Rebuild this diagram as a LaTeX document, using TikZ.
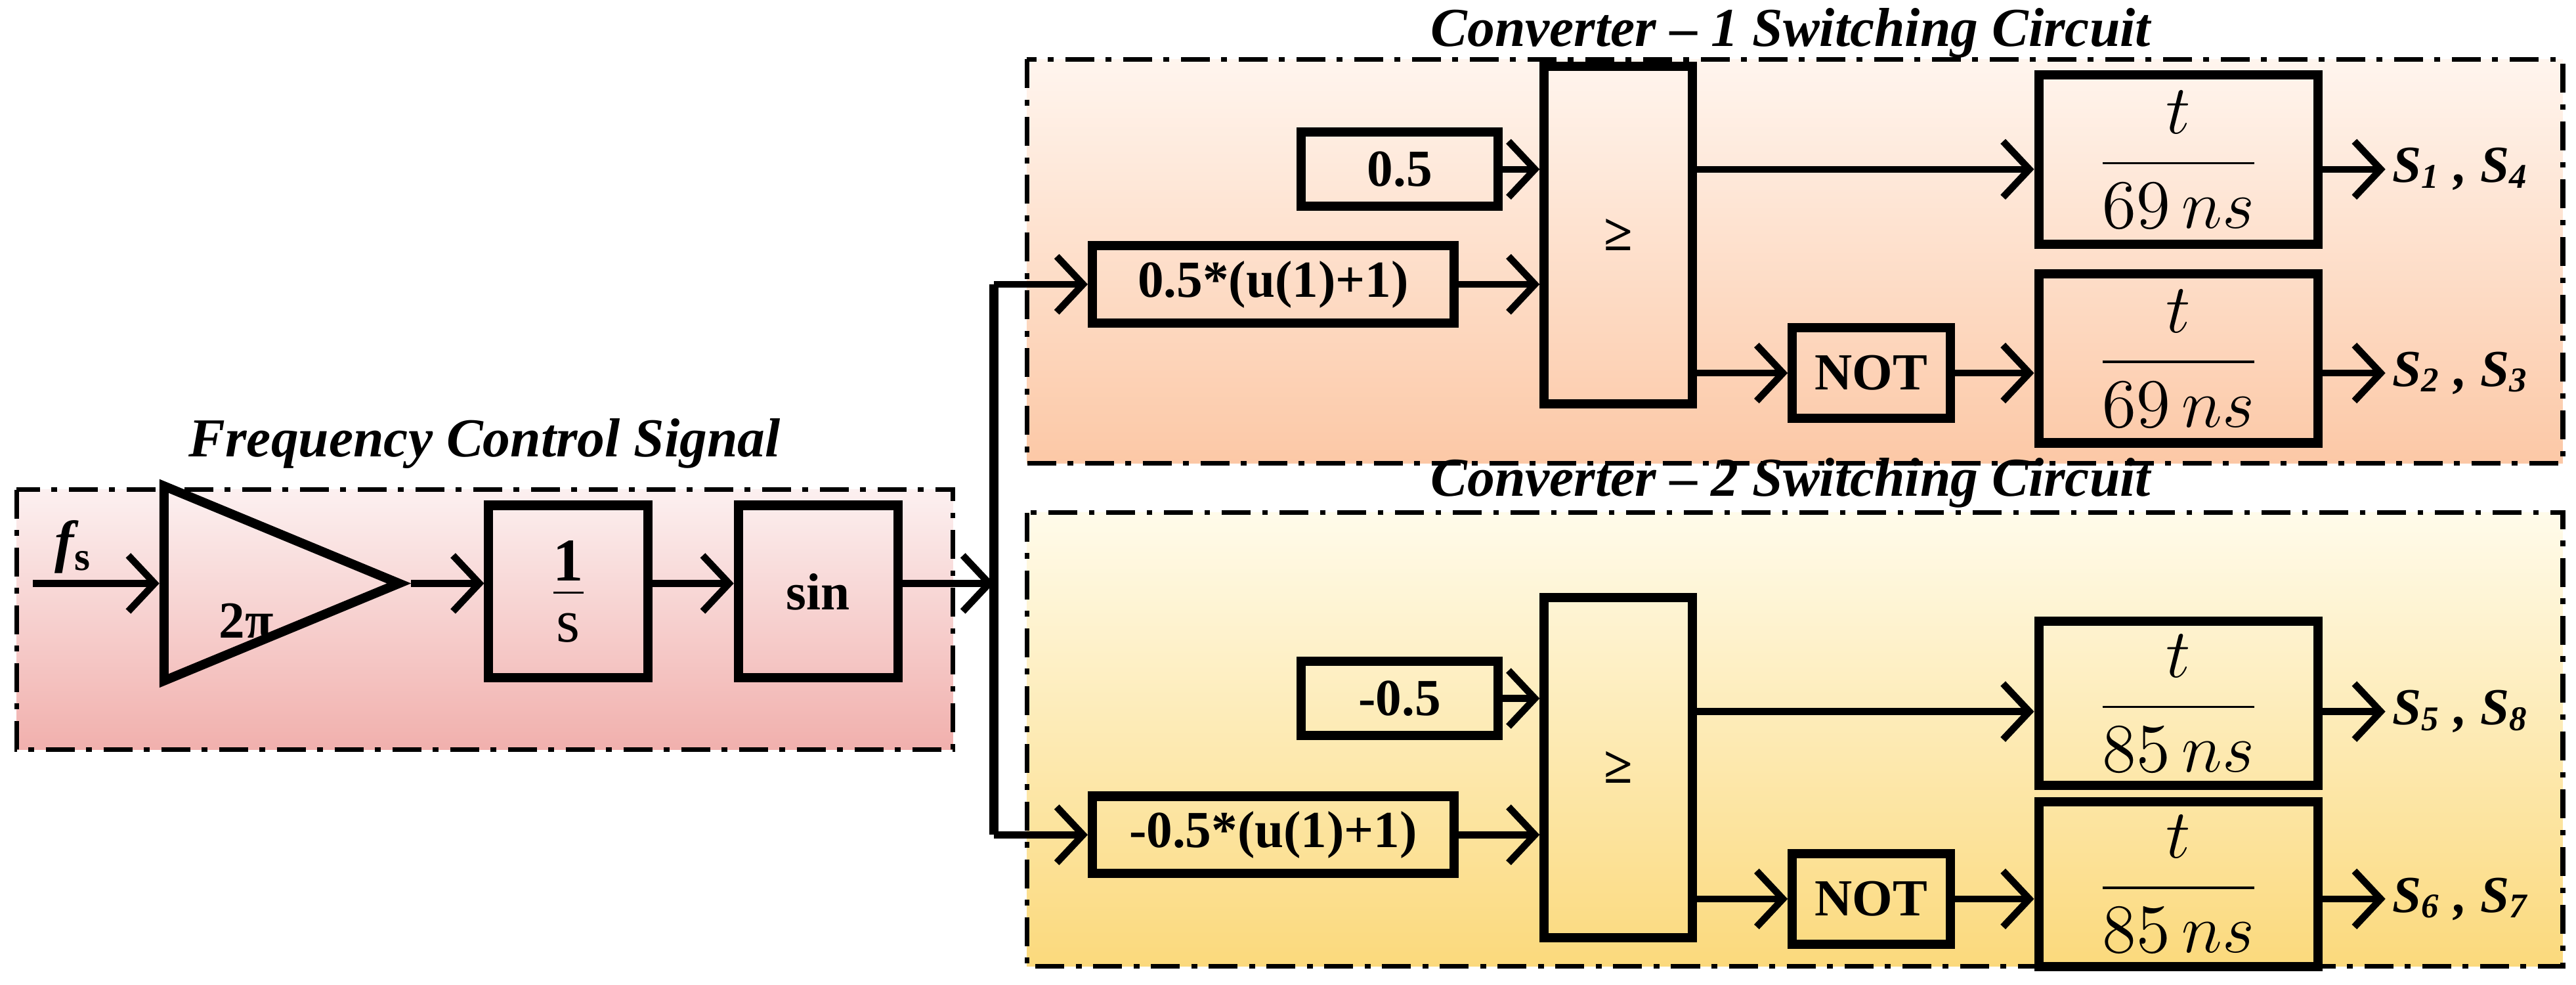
\documentclass[tikz,border=0pt]{standalone}
\usepackage{fontspec}
\setmainfont{Liberation Serif}
\usetikzlibrary{arrows.meta,shapes.geometric}
\definecolor{pinkA}{HTML}{FCF0F0}
\definecolor{pinkB}{HTML}{F1B0AD}
\definecolor{peachA}{HTML}{FFF5EE}
\definecolor{peachB}{HTML}{FCC8A6}
\definecolor{yelA}{HTML}{FFFBEA}
\definecolor{yelB}{HTML}{FBD97C}
\tikzset{
  frame/.style={draw=black, line width=0.8pt, dash pattern=on 5pt off 2pt on 1pt off 2pt},
  block/.style={rectangle, draw=black, line width=1.6pt, inner sep=0pt, font=\fontsize{9}{10}\selectfont\bfseries},
  title/.style={font=\fontsize{9.5}{11}\selectfont\bfseries\itshape},
  sig/.style={anchor=west, font=\fontsize{9}{10}\selectfont\bfseries\itshape, inner sep=1pt},
  arrow/.style={line width=1.2pt, -{Straight Barb[length=1.6mm,width=3.4mm,line width=1.2pt]}}
}
\newcommand{\dly}[1]{\fontsize{12.5}{15}\selectfont$\displaystyle\frac{t}{#1\,ns}$}
\begin{document}
\begin{tikzpicture}[x=0.01cm, y=-0.01cm]
  \useasboundingbox (0,0) rectangle (1568,599);
  % frames
  \shade[top color=pinkA, bottom color=pinkB] (10,298) rectangle (580,456);
  \draw[frame] (10,298) rectangle (580,456);
  \shade[top color=peachA, bottom color=peachB] (625,36) rectangle (1560,282);
  \draw[frame] (625,36) rectangle (1560,282);
  \shade[top color=yelA, bottom color=yelB] (625,312) rectangle (1560,588);
  \draw[frame] (625,312) rectangle (1560,588);
  \node (tfreq) [title] at (295,270) {Frequency Control Signal};
  \node (tconv1) [title] at (1090,20) {Converter -- 1 Switching Circuit};
  \node (tconv2) [title] at (1090,294) {Converter -- 2 Switching Circuit};

  % frequency control signal
  \coordinate (in) at (20,355);
  \node (fs) at (45,333) {\fontsize{10}{11}\selectfont\bfseries\itshape f\textsubscript{\upshape s}};
  \node (gain) [isosceles triangle, draw, line width=1.6pt, minimum height=1.43cm, minimum width=0.96cm, inner sep=0pt, anchor=west] at (97,355) {};
  \node (gtxt) [font=\fontsize{9}{10}\selectfont\bfseries] at (150,378) {2π};
  \node (integ) [block, minimum width=0.97cm, minimum height=1.05cm] at (346,360) {\fontsize{15}{20}\selectfont$\frac{\mathbf{1}}{\mathrm{s}}$};
  \node (sine) [block, minimum width=0.97cm, minimum height=1.05cm] at (498,360) {sin};
  \coordinate (bus) at (605,355);
  \coordinate (busT) at (605,173);
  \coordinate (busB) at (605,508);
  \draw[arrow] (in) -- (gain.west);
  \draw[arrow] (gain.apex) -- (integ.west |- gain.apex);
  \draw[arrow] (integ.east |- gain.apex) -- (sine.west |- gain.apex);
  \draw[arrow] (sine.east |- gain.apex) -- (bus);
  \draw[line width=1.6pt] (busT) -- (busB);

  % converter 1
  \node (cA) [block, minimum width=1.2cm, minimum height=0.45cm] at (852,103) {0.5};
  \node (uA) [block, minimum width=2.2cm, minimum height=0.47cm] at (775,173) {0.5*(u(1)+1)};
  \node (cmpA) [block, minimum width=0.9cm, minimum height=2.05cm] at (985,143) {≥};
  \node (notA) [block, minimum width=0.96cm, minimum height=0.55cm] at (1139,227) {NOT};
  \node (dA1) [block, minimum width=1.7cm, minimum height=1.03cm] at (1326,97) {\dly{69}};
  \node (dA2) [block, minimum width=1.7cm, minimum height=1.03cm] at (1326,218) {\dly{69}};
  \coordinate (oA1) at (1452,103);
  \coordinate (oA2) at (1452,227);
  \node (sA1) [sig] at (oA1) {S\textsubscript{1} , S\textsubscript{4}};
  \node (sA2) [sig] at (oA2) {S\textsubscript{2} , S\textsubscript{3}};
  \draw[arrow] (busT) -- (uA.west);
  \draw[arrow] (cA.east) -- (cmpA.west |- cA.east);
  \draw[arrow] (uA.east) -- (cmpA.west |- uA.east);
  \draw[arrow] (cmpA.east |- cA.east) -- (dA1.west |- cA.east);
  \draw[arrow] (cmpA.east |- notA.west) -- (notA.west);
  \draw[arrow] (notA.east) -- (dA2.west |- notA.east);
  \draw[arrow] (dA1.east |- oA1) -- (oA1);
  \draw[arrow] (dA2.east |- oA2) -- (oA2);

  % converter 2
  \node (cB) [block, minimum width=1.2cm, minimum height=0.45cm] at (852,425) {-0.5};
  \node (uB) [block, minimum width=2.2cm, minimum height=0.47cm] at (775,508) {-0.5*(u(1)+1)};
  \node (cmpB) [block, minimum width=0.9cm, minimum height=2.07cm] at (985,467) {≥};
  \node (notB) [block, minimum width=0.96cm, minimum height=0.55cm] at (1139,547) {NOT};
  \node (dB1) [block, minimum width=1.7cm, minimum height=1.0cm] at (1326,428) {\dly{85}};
  \node (dB2) [block, minimum width=1.7cm, minimum height=1.0cm] at (1326,538) {\dly{85}};
  \coordinate (oB1) at (1452,433);
  \coordinate (oB2) at (1452,547);
  \node (sB1) [sig] at (oB1) {S\textsubscript{5} , S\textsubscript{8}};
  \node (sB2) [sig] at (oB2) {S\textsubscript{6} , S\textsubscript{7}};
  \draw[arrow] (busB) -- (uB.west);
  \draw[arrow] (cB.east) -- (cmpB.west |- cB.east);
  \draw[arrow] (uB.east) -- (cmpB.west |- uB.east);
  \draw[arrow] (cmpB.east |- oB1) -- (dB1.west |- oB1);
  \draw[arrow] (cmpB.east |- notB.west) -- (notB.west);
  \draw[arrow] (notB.east) -- (dB2.west |- notB.east);
  \draw[arrow] (dB1.east |- oB1) -- (oB1);
  \draw[arrow] (dB2.east |- oB2) -- (oB2);
\end{tikzpicture}
\end{document}
